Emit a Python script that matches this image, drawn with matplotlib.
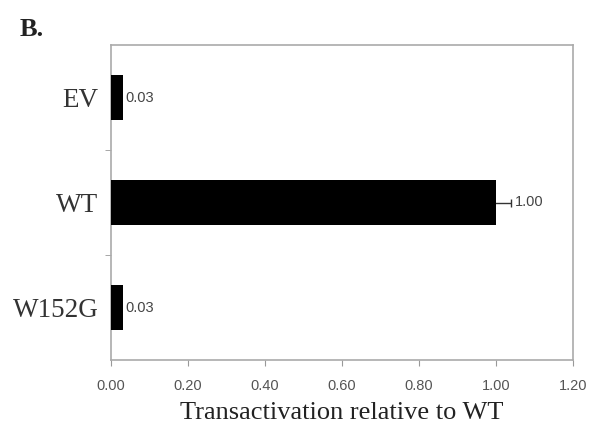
import matplotlib
matplotlib.use("Agg")
import matplotlib.pyplot as plt
import numpy as np

categories = ["EV", "WT", "W152G"]
values = [0.03, 1.00, 0.03]
errors = [0.0, 0.04, 0.0]
labels = ["0.03", "1.00", "0.03"]
xticks = [0.0, 0.2, 0.4, 0.6, 0.8, 1.0, 1.2]

fig = plt.figure(figsize=(5.94, 4.28), dpi=100)
ax = fig.add_axes([111/594, 1-360/428, (573-111)/594, (360-45)/428])

ypos = np.arange(len(categories))
ax.barh(ypos, values, height=0.42, color="black", zorder=3)
ax.errorbar([values[1]], [ypos[1]], xerr=[errors[1]], fmt="none",
            ecolor="#333333", elinewidth=1, capsize=3, capthick=1, zorder=2)
for i, (v, e, l) in enumerate(zip(values, errors, labels)):
    ax.text(v + e + 0.008, ypos[i], l, va="center", ha="left",
            fontsize=10.5, color="#444444", family="Liberation Sans")

ax.set_xlim(0, 1.2)
ax.set_ylim(2.5, -0.5)
ax.set_xticks(xticks)
ax.set_xticklabels([f"{t:.2f}" for t in xticks], family="Liberation Sans",
                   fontsize=10.5, color="#555555")
ax.set_yticks(ypos)
ax.set_yticklabels(categories, family="Liberation Serif", fontsize=19.5, color="#333333")
ax.tick_params(axis="y", length=0, pad=9)
ax.set_yticks([0.5, 1.5], minor=True)
ax.tick_params(axis="y", which="minor", length=4, color="#999999", direction="out")
ax.tick_params(axis="x", length=4, color="#999999", direction="out", pad=10)
for s in ax.spines.values():
    s.set_color("#aaaaaa")
    s.set_linewidth(1.2)
ax.set_xlabel("Transactivation relative to WT", family="Liberation Serif",
              fontsize=19, color="#222222", labelpad=6)
fig.text(20/594, 1-29/428, "B.", family="Liberation Serif", fontsize=19,
         fontweight="bold", va="center", ha="left", color="#222222")

fig.savefig("out.png", dpi=100)
